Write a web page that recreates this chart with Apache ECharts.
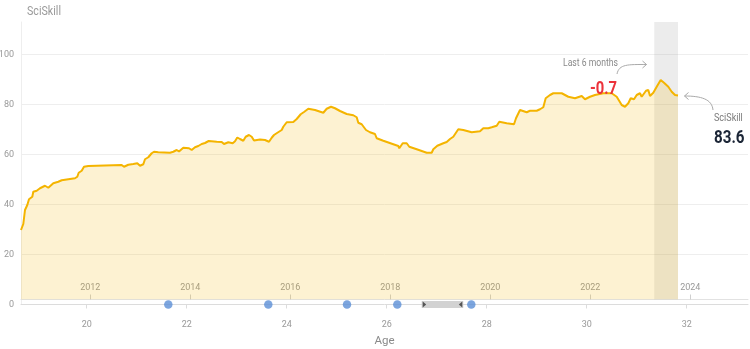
<!DOCTYPE html>
<html>
<head>
<meta charset="utf-8">
<script src="https://cdn.jsdelivr.net/npm/echarts@6/dist/echarts.min.js"></script>
<style>html,body{margin:0;padding:0;background:#fff;}#chart{width:750px;height:349px;}</style>
</head>
<body>
<div id="chart"></div>
<script>
// ---- data ----
const ages = [18.686,18.732,18.766,18.812,18.846,18.912,18.932,19.000,19.066,19.166,19.232,19.332,19.432,19.500,19.766,19.812,19.840,19.900,19.946,20.032,20.700,20.746,20.832,20.866,20.932,20.966,21.012,21.066,21.132,21.166,21.232,21.300,21.346,21.432,21.666,21.732,21.800,21.846,21.932,22.046,22.100,22.166,22.232,22.300,22.366,22.440,22.600,22.700,22.746,22.832,22.920,22.966,23.012,23.066,23.132,23.180,23.246,23.300,23.346,23.466,23.566,23.646,23.700,23.746,23.806,23.900,23.932,24.000,24.132,24.200,24.280,24.346,24.432,24.566,24.732,24.800,24.886,24.966,25.066,25.200,25.332,25.400,25.432,25.500,25.586,25.666,25.766,25.800,25.932,26.232,26.252,26.320,26.400,26.452,26.600,26.800,26.900,26.932,27.012,27.132,27.200,27.266,27.332,27.432,27.532,27.700,27.866,27.932,28.032,28.100,28.200,28.252,28.400,28.546,28.586,28.666,28.800,28.866,29.000,29.066,29.132,29.180,29.266,29.332,29.500,29.632,29.766,29.900,29.966,30.066,30.166,30.332,30.500,30.600,30.700,30.766,30.832,30.880,30.946,31.000,31.066,31.100,31.186,31.232,31.266,31.332,31.400,31.480,31.546,31.632,31.700,31.766,31.826];
const sciSkill = [29.8,32.2,37.8,39.8,42.1,43.1,45.1,45.5,46.5,47.5,46.7,48.5,49.1,49.7,50.5,51.1,52.7,53.5,55.1,55.4,55.8,55.1,55.9,55.1,56.2,55.4,56.5,55.5,56.1,58.1,58.9,60.5,61.1,60.9,60.7,61.1,61.8,61.2,62.7,62.5,61.8,62.9,63.4,64.2,64.6,65.4,65.1,65.0,64.2,64.9,64.5,65.3,66.8,66.2,65.5,67.1,67.8,67.1,65.6,66.0,65.8,65.1,66.7,67.8,68.6,69.8,71.1,72.9,73.0,74.2,76.1,77.0,78.3,77.8,76.7,78.3,79.1,78.5,77.4,76.2,75.7,74.9,72.7,72.1,69.8,68.9,68.2,66.5,65.5,63.4,62.5,64.5,64.5,63.1,62.1,60.7,60.7,62.1,63.5,64.5,65.0,66.2,67.1,70.1,69.8,68.9,69.3,70.5,70.5,70.9,71.5,73.1,72.5,72.1,74.5,77.8,76.9,77.5,77.5,78.1,78.9,82.5,83.8,84.5,84.5,83.1,82.5,83.4,82.1,83.1,83.8,84.5,84.5,83.1,79.8,79.1,80.5,82.5,82.1,83.8,84.5,83.1,85.5,85.8,83.4,84.7,87.1,89.8,88.7,87.1,85.1,83.8,83.6];
const eventAges = [21.632, 23.632, 25.206, 26.212, 27.692];
const rangeAges = [26.70, 27.532];
const last6Months = [31.352, 31.826];
const ageTicks = [20, 22, 24, 26, 28, 30, 32];
const yearTicks = [2012, 2014, 2016, 2018, 2020, 2022, 2024];
const yTicks = [0, 20, 40, 60, 80, 100];
const yearOffset = 1991.928; // year = age + yearOffset
const ageMin = 18.686, ageMax = 33.226;
const yMax = 113;
const latestValue = 83.6;
const change6m = -0.7;

const FONT = "Roboto, 'DejaVu Sans', sans-serif";
const SX = 0.82; // condense annotation text

const chart = echarts.init(document.getElementById('chart'), null, {renderer: 'canvas'});
const lineData = ages.map((a, i) => [a, sciSkill[i]]);

const option = {
  animation: false,
  backgroundColor: '#ffffff',
  grid: {left: 21, right: 2, top: 22, bottom: 44.5, containLabel: false, outerBoundsMode: 'none'},
  xAxis: [
    {
      type: 'value', min: ageMin, max: ageMax, position: 'bottom', offset: 4,
      axisLine: {show: true, lineStyle: {color: '#dcdcdc', width: 1}},
      axisTick: {show: true, length: 4, lineStyle: {color: '#dcdcdc'}, customValues: ageTicks},
      axisLabel: {color: '#999', fontSize: 9, fontFamily: FONT, margin: 12, customValues: ageTicks, formatter: v => String(v)},
      splitLine: {show: false},
      name: 'Age', nameLocation: 'middle', nameGap: 27,
      nameTextStyle: {color: '#8a8a8a', fontSize: 11.5, fontFamily: FONT}
    },
    {
      type: 'value', min: ageMin + yearOffset, max: ageMax + yearOffset, position: 'bottom', offset: -5,
      axisLine: {show: true, lineStyle: {color: '#e2e2e2', width: 1}},
      axisTick: {show: true, inside: true, length: 5, lineStyle: {color: '#cfcfcf'}, customValues: yearTicks},
      axisLabel: {inside: true, color: '#999', fontSize: 9, fontFamily: FONT, margin: 7, customValues: yearTicks, formatter: v => String(v)},
      splitLine: {show: false}
    }
  ],
  yAxis: {
    type: 'value', min: 0, max: yMax, interval: 20,
    axisLine: {show: true, lineStyle: {color: '#eeeeee'}},
    axisTick: {show: false},
    axisLabel: {color: '#999', fontSize: 9, fontFamily: FONT, margin: 7, customValues: yTicks, formatter: v => String(v)},
    splitLine: {show: true, showMinLine: false, showMaxLine: false, lineStyle: {color: '#eeeeee', width: 1}}
  },
  series: [
    {
      type: 'line', name: 'band', data: [], z: 1, silent: true,
      markArea: {
        silent: true,
        itemStyle: {color: 'rgba(150,150,150,0.18)'},
        data: [[{xAxis: last6Months[0], yAxis: 2.1}, {xAxis: last6Months[1], yAxis: yMax}]]
      }
    },
    {
      type: 'line', name: 'SciSkill', data: lineData, z: 2,
      symbol: 'none', smooth: false,
      lineStyle: {color: '#F4B400', width: 2},
      areaStyle: {color: 'rgba(245,184,0,0.25)', origin: 2.1}
    },
    {
      type: 'scatter', data: eventAges.map(a => [a, 0]), z: 5, clip: false,
      symbolSize: 8.5, itemStyle: {color: '#5B8ED6'}
    },
    {
      type: 'custom', data: [rangeAges], z: 4, clip: false,
      renderItem: function (params, api) {
        const p1 = api.coord([api.value(0), 0]);
        const p2 = api.coord([api.value(1), 0]);
        const y = p1[1];
        return {
          type: 'group', children: [
            {type: 'rect', shape: {x: p1[0], y: y - 3.4, width: p2[0] - p1[0], height: 6.8}, style: {fill: '#d2d2d2'}},
            {type: 'polygon', shape: {points: [[p1[0] + 1, y - 3], [p1[0] + 4.5, y], [p1[0] + 1, y + 3]]}, style: {fill: '#555'}},
            {type: 'polygon', shape: {points: [[p2[0] - 1, y - 3], [p2[0] - 4.5, y], [p2[0] - 1, y + 3]]}, style: {fill: '#555'}}
          ]
        };
      }
    }
  ],
  graphic: [
    {type: 'text', x: 27, y: 5, scaleX: SX, z: 100, style: {text: 'SciSkill', fill: '#9a9a9a', font: '13px ' + FONT}},
    {type: 'text', x: 563, y: 58, scaleX: SX, z: 100, style: {text: 'Last 6 months', fill: '#8a8a8a', font: '10.5px ' + FONT}},
    {type: 'text', x: 590, y: 80, scaleX: SX, z: 100, style: {text: (change6m > 0 ? '+' : '') + change6m.toFixed(1), fill: '#EC323B', font: 'bold 18px ' + FONT}},
    {type: 'text', x: 714, y: 112.5, scaleX: SX, z: 100, style: {text: 'SciSkill', fill: '#7a7a7a', font: '11px ' + FONT}},
    {type: 'text', x: 714, y: 129, scaleX: SX, z: 100, style: {text: latestValue.toFixed(1), fill: '#1B2536', font: 'bold 18.5px ' + FONT}},
    {type: 'bezierCurve', z: 100, shape: {x1: 617, y1: 74, cpx1: 619, cpy1: 64, cpx2: 628, cpy2: 64.5, x2: 646.5, y2: 64.5}, style: {stroke: '#aaaaaa', lineWidth: 1, fill: 'none'}},
    {type: 'polyline', z: 100, shape: {points: [[642.5, 61], [646.5, 64.5], [642.5, 68]]}, style: {stroke: '#aaaaaa', lineWidth: 1, fill: 'none'}},
    {type: 'bezierCurve', z: 100, shape: {x1: 713, y1: 110, cpx1: 712, cpy1: 99, cpx2: 701, cpy2: 96, x2: 684.5, y2: 96}, style: {stroke: '#aaaaaa', lineWidth: 1, fill: 'none'}},
    {type: 'polyline', z: 100, shape: {points: [[688.5, 92.5], [684.5, 96], [688.5, 99.5]]}, style: {stroke: '#aaaaaa', lineWidth: 1, fill: 'none'}}
  ]
};
chart.setOption(option);
</script>
</body>
</html>
